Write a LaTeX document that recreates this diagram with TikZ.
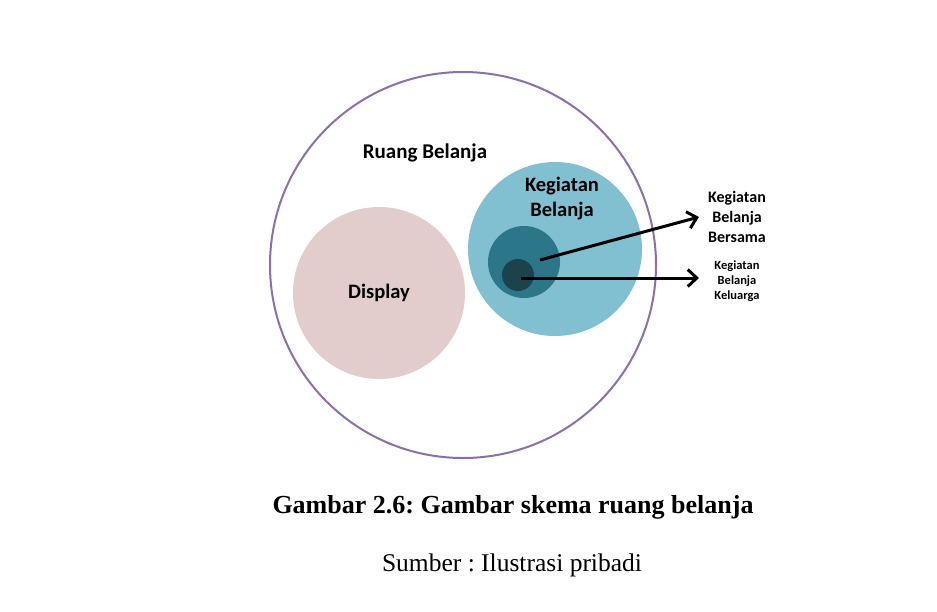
\documentclass[tikz,border=0pt]{standalone}
\usepackage{fontspec}
\setmainfont{Liberation Serif}
\newfontfamily\calibri{Carlito}
\usepackage{tikz}
\usetikzlibrary{arrows.meta,positioning}
\usepackage{xcolor}
\frenchspacing
\definecolor{ruangline}{RGB}{140,112,172}
\definecolor{displayfill}{RGB}{226,204,204}
\definecolor{kegiatanfill}{RGB}{128,192,208}
\definecolor{bersamafill}{RGB}{44,118,138}
\definecolor{keluargafill}{RGB}{28,66,76}
\tikzset{
  area/.style={circle,inner sep=0pt,draw=none},
  tag/.style={font=\calibri\bfseries\fontsize{20.5}{25}\selectfont,align=center,text=black},
  sidetag/.style={font=\calibri\bfseries\fontsize{16}{20}\selectfont,align=center,inner xsep=9pt,inner ysep=0pt},
  smalltag/.style={font=\calibri\bfseries\fontsize{12.5}{15}\selectfont,align=center,inner xsep=9pt,inner ysep=0pt},
  arrow/.style={-{Straight Barb[length=9pt,width=17pt,line width=3pt]},line width=3pt},
  caption/.style={font=\bfseries\fontsize{26}{30}\selectfont},
  source/.style={font=\fontsize{25.5}{30}\selectfont}
}

\begin{document}
\begin{tikzpicture}[x=1pt,y=-1pt]
  \useasboundingbox (0,0) rectangle (937,611);
  \fill[white] (0,0) rectangle (937,611);

  % circles of the scheme
  \node[area,draw=ruangline,line width=2pt,minimum size=386pt] (ruang) at (463,265) {};
  \node[area,fill=displayfill,minimum size=172pt] (display) at (379,293) {};
  \node[area,fill=kegiatanfill,minimum size=174pt] (kegiatan) at (555,249) {};
  \node[area,fill=bersamafill,minimum size=72pt] (bersama) at (524,262) {};
  \node[area,fill=keluargafill,minimum size=32pt] (keluarga) at (518,275) {};

  % labels
  \node[tag,font=\calibri\bfseries\fontsize{21}{25}\selectfont] (ruanglbl) at (425,153) {Ruang Belanja};
  \node[tag] (displaylbl) at (display) {Display};
  \node[tag] (kegiatanlbl) at (562,199) {Kegiatan\\Belanja};
  \node[sidetag] (bersamalbl) at (737,217) {Kegiatan\\Belanja\\Bersama};
  \node[smalltag] (keluargalbl) at (737,281) {Kegiatan\\Belanja\\Keluarga};

  \coordinate (bersamapt) at (540,260);
  \coordinate (keluargapt) at (521,278);
  \draw[arrow] (bersamapt) -- (bersamalbl.west);
  \draw[arrow] (keluargapt) -- (keluargapt -| bersamalbl.west);

  % caption
  \node[caption] (cap) at (513,507) {Gambar 2.6: Gambar skema ruang belanja};
  \node[source] (src) at (512,565) {Sumber : Ilustrasi pribadi};
\end{tikzpicture}
\end{document}
